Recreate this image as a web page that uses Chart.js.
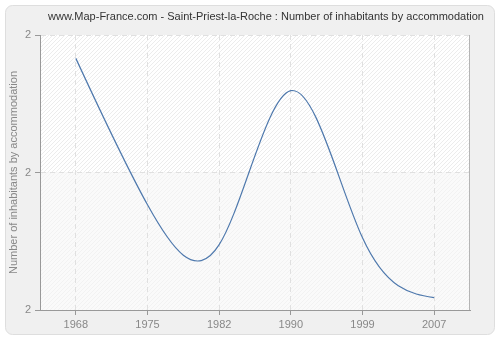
<!DOCTYPE html>
<html>
<head>
<meta charset="utf-8">
<script src="https://cdn.jsdelivr.net/npm/chart.js@4/dist/chart.umd.min.js"></script>
<style>
  html, body { margin: 0; padding: 0; background: #fff; }
  #wrap { width: 500px; height: 340px; }
</style>
</head>
<body>
<div id="wrap"><canvas id="chart" width="500" height="340"></canvas></div>
<script>
// Census years and average inhabitants per accommodation
const years = ['1968', '1975', '1982', '1990', '1999', '2007'];
const inhabitants = [2.166, 1.953, 1.895, 2.119, 1.905, 1.818];
const yTicks = [1.8, 2.0, 2.2];

const titleText = 'www.Map-France.com - Saint-Priest-la-Roche : Number of inhabitants by accommodation';
const fontFamily = '"Liberation Sans", Arial, sans-serif';

function hatch(bg, line) {
  const c = document.createElement('canvas');
  c.width = 4; c.height = 4;
  const g = c.getContext('2d');
  g.fillStyle = bg;
  g.fillRect(0, 0, 4, 4);
  g.strokeStyle = line;
  g.lineWidth = 1;
  g.beginPath();
  g.moveTo(0, 4); g.lineTo(4, 0);
  g.moveTo(-1, 1); g.lineTo(1, -1);
  g.moveTo(3, 5); g.lineTo(5, 3);
  g.stroke();
  return c;
}

// Natural cubic spline slopes for evenly spaced knots
function naturalSlopes(v) {
  const n = v.length - 1;
  const a = [], b = [], c = [], r = [];
  for (let i = 0; i <= n; i++) {
    a[i] = 1; c[i] = 1; b[i] = 4;
    if (i === 0) { b[i] = 2; r[i] = 3 * (v[1] - v[0]); }
    else if (i === n) { b[i] = 2; r[i] = 3 * (v[n] - v[n - 1]); }
    else r[i] = 3 * (v[i + 1] - v[i - 1]);
  }
  for (let i = 1; i <= n; i++) {
    const m = a[i] / b[i - 1];
    b[i] -= m * c[i - 1];
    r[i] -= m * r[i - 1];
  }
  const d = [];
  d[n] = r[n] / b[n];
  for (let i = n - 1; i >= 0; i--) d[i] = (r[i] - c[i] * d[i + 1]) / b[i];
  return d;
}

// Replace the line's bezier control points with a natural spline
const naturalSpline = {
  id: 'naturalSpline',
  beforeDatasetsDraw(chart) {
    chart.data.datasets.forEach((ds, i) => {
      const meta = chart.getDatasetMeta(i);
      const line = meta.dataset;
      const pts = meta.data;
      line.updateControlPoints(chart.chartArea, 'x');
      const dx = naturalSlopes(pts.map(p => p.x));
      const dy = naturalSlopes(pts.map(p => p.y));
      pts.forEach((p, k) => {
        p.cp1x = p.x - dx[k] / 3; p.cp1y = p.y - dy[k] / 3;
        p.cp2x = p.x + dx[k] / 3; p.cp2y = p.y + dy[k] / 3;
      });
      line._path = undefined;
    });
  }
};

// Grey rounded panel, title and striped plot background
const backdrop = {
  id: 'backdrop',
  beforeDraw(chart) {
    const ctx = chart.ctx;
    const a = chart.chartArea;
    ctx.save();
    ctx.fillStyle = '#ffffff';
    ctx.fillRect(0, 0, chart.width, chart.height);
    ctx.beginPath();
    ctx.roundRect(5.5, 5.5, 489, 329, 7);
    ctx.fillStyle = '#f0f0f0';
    ctx.fill();
    ctx.strokeStyle = '#dedede';
    ctx.stroke();

    const mid = chart.scales.y.getPixelForValue(2.0);
    ctx.fillStyle = ctx.createPattern(hatch('#ffffff', '#ececec'), 'repeat');
    ctx.fillRect(a.left, a.top, a.right - a.left, mid - a.top);
    ctx.fillStyle = ctx.createPattern(hatch('#fafafa', '#f2f2f2'), 'repeat');
    ctx.fillRect(a.left, mid, a.right - a.left, a.bottom - mid);

    ctx.fillStyle = '#333';
    ctx.font = '11px ' + fontFamily;
    ctx.textAlign = 'center';
    ctx.textBaseline = 'middle';
    ctx.fillText(titleText, 266, 17);
    ctx.restore();
  },
  afterDraw(chart) {
    const ctx = chart.ctx;
    const a = chart.chartArea;
    ctx.save();
    ctx.strokeStyle = '#b4b4b4';
    ctx.lineWidth = 1;
    ctx.beginPath();
    ctx.moveTo(Math.round(a.right) - 0.5, a.top);
    ctx.lineTo(Math.round(a.right) - 0.5, a.bottom);
    ctx.stroke();
    ctx.restore();
  }
};

new Chart(document.getElementById('chart'), {
  type: 'line',
  data: {
    labels: years,
    datasets: [{
      data: inhabitants,
      borderColor: '#4f79ad',
      borderWidth: 1.2,
      pointRadius: 0,
      tension: 0.4,
      fill: false
    }]
  },
  options: {
    responsive: false,
    animation: false,
    layout: { padding: { top: 35, right: 30, bottom: 0, left: 0 } },
    plugins: {
      legend: { display: false },
      tooltip: { enabled: false },
      title: { display: false }
    },
    scales: {
      x: {
        offset: true,
        grid: {
          offset: false,
          color: '#e0e0e0',
          tickColor: '#999',
          tickLength: 5
        },
        border: { color: '#999', dash: [5, 4] },
        ticks: { color: '#888', font: { family: fontFamily, size: 11 }, padding: 3 },
        afterFit(scale) { scale.height = 30; }
      },
      y: {
        min: 1.8,
        max: 2.2,
        afterBuildTicks(scale) { scale.ticks = yTicks.map(v => ({ value: v })); },
        grid: {
          color: '#e0e0e0',
          tickColor: '#999',
          tickLength: 5
        },
        border: { color: '#999', dash: [5, 4] },
        ticks: {
          color: '#888',
          font: { family: fontFamily, size: 11 },
          padding: 4,
          callback: v => Math.round(v).toString()
        },
        title: {
          display: true,
          text: 'Number of inhabitants by accommodation',
          color: '#888',
          font: { family: fontFamily, size: 11 },
          padding: { top: 7, bottom: 0 }
        },
        afterFit(scale) { scale.width = 40; }
      }
    }
  },
  plugins: [backdrop, naturalSpline]
});
</script>
</body>
</html>
